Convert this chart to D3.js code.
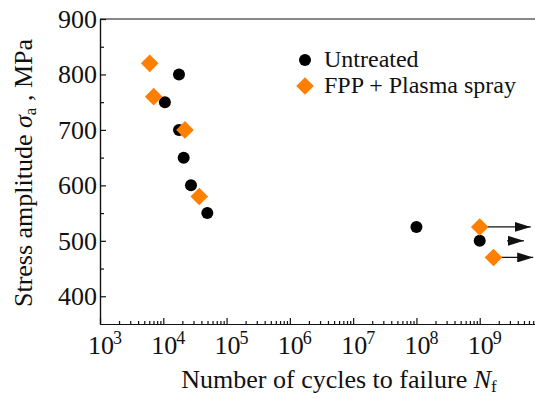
<!DOCTYPE html>
<html>
<head>
<meta charset="utf-8">
<script src="https://cdn.jsdelivr.net/npm/d3@7"></script>
<style>
  body { margin: 0; background: #fff; }
  svg text { font-family: "Liberation Serif", "Times New Roman", serif; fill: #111; }
</style>
</head>
<body>
<svg id="chart" width="535" height="398"></svg>
<script>
// S-N data
const untreatedN = [17700, 10600, 17700, 21000, 27400, 49600, 1e8, 1e9];
const untreatedS = [800, 750, 700, 650, 600, 550, 525, 500];
const fppN = [6100, 7050, 22000, 37000, 1e9, 1.65e9];
const fppS = [820, 760, 700, 580, 525, 470];
// run-out arrows: from, to (cycles) at stress level
const arrowFrom = [1e9, 2.7e9, 1.65e9];
const arrowTo = [6.4e9, 5.0e9, 7.0e9];
const arrowS = [525, 500, 470];
const xDecades = [3, 4, 5, 6, 7, 8, 9];
const yMajor = [400, 500, 600, 700, 800, 900];
const yMinor = [450, 550, 650, 750, 850];
const legendLabels = ["Untreated", "FPP + Plasma spray"];

const orange = "#ff7f00";
const margin = { left: 100, top: 19 };
const width = 443, height = 305;

const svg = d3.select("#chart");
const g = svg.append("g").attr("transform", `translate(${margin.left},${margin.top})`);

const x = d3.scaleLog().domain([1e3, 1e10]).range([0, width]);
const y = d3.scaleLinear().domain([350, 900]).range([height, 0]);

// minor x ticks
const xMinor = [];
for (let d = 3; d < 10; d++) for (let m = 2; m <= 9; m++) xMinor.push(m * Math.pow(10, d));

const styleAxis = sel => {
  sel.selectAll("path, line").attr("stroke", "#111").attr("stroke-width", 1.2);
};

g.append("g").attr("transform", `translate(0,${height})`)
  .call(d3.axisBottom(x).tickValues(xMinor).tickSizeInner(-3).tickSizeOuter(0).tickFormat(""))
  .call(styleAxis);
g.append("g").attr("transform", `translate(0,${height})`)
  .call(d3.axisBottom(x).tickValues(xDecades.map(d => Math.pow(10, d))).tickSizeInner(-6).tickSizeOuter(0).tickFormat(""))
  .call(styleAxis);

// decade labels 10^n
const xl = g.append("g");
xDecades.forEach(d => {
  const px = x(Math.pow(10, d));
  xl.append("text").attr("x", px + 1).attr("y", height + 30)
    .attr("text-anchor", "middle").attr("font-size", 26).text("10");
  xl.append("text").attr("x", px + 13).attr("y", height + 20)
    .attr("font-size", 18).text(d);
});

g.append("g")
  .call(d3.axisLeft(y).tickValues(yMinor).tickSizeInner(-4).tickSizeOuter(0).tickFormat(""))
  .call(styleAxis);
g.append("g")
  .call(d3.axisLeft(y).tickValues(yMajor).tickSizeInner(-6).tickSizeOuter(0).tickPadding(3))
  .call(styleAxis)
  .call(a => a.selectAll("text").attr("font-size", 26).attr("font-family", null).attr("fill", "#111"));

// top frame line
g.append("line").attr("x1", 0).attr("x2", width).attr("y1", 0).attr("y2", 0)
  .attr("stroke", "#111").attr("stroke-width", 1.2);

// arrows
const defs = svg.append("defs");
defs.append("marker").attr("id", "head").attr("markerUnits", "userSpaceOnUse")
  .attr("markerWidth", 16).attr("markerHeight", 10).attr("refX", 16).attr("refY", 5)
  .attr("orient", "auto")
  .append("path").attr("d", "M0,0 L16,5 L0,10 Z").attr("fill", "#111");
g.selectAll(".arrow").data(arrowS).join("line")
  .attr("x1", (s, i) => x(arrowFrom[i])).attr("x2", (s, i) => x(arrowTo[i]))
  .attr("y1", s => y(s)).attr("y2", s => y(s))
  .attr("stroke", "#111").attr("stroke-width", 1.2).attr("marker-end", "url(#head)");

// points
const diamond = d3.symbol().type(d3.symbolSquare).size(155);
g.selectAll(".u").data(untreatedS).join("circle")
  .attr("cx", (s, i) => x(untreatedN[i])).attr("cy", s => y(s)).attr("r", 6).attr("fill", "#000");
g.selectAll(".f").data(fppS).join("path")
  .attr("d", diamond)
  .attr("transform", (s, i) => `translate(${x(fppN[i])},${y(s)}) rotate(45)`)
  .attr("fill", orange);

// legend
const lg = svg.append("g").attr("transform", "translate(305,60)");
lg.append("circle").attr("r", 6).attr("fill", "#000");
lg.append("path").attr("d", diamond).attr("transform", "translate(0,26) rotate(45)").attr("fill", orange);
lg.selectAll("text").data(legendLabels).join("text")
  .attr("x", 19).attr("y", (d, i) => 7 + i * 26).attr("font-size", 24).text(d => d);

// axis titles
const xt = svg.append("text").attr("x", 339).attr("y", 388).attr("text-anchor", "middle").attr("font-size", 26);
xt.append("tspan").text("Number of cycles to failure ");
xt.append("tspan").attr("font-style", "italic").text("N");
xt.append("tspan").attr("font-size", 17).attr("dy", 4).text("f");

const yt = svg.append("text").attr("transform", "translate(32,173) rotate(-90)")
  .attr("text-anchor", "middle").attr("font-size", 26);
yt.append("tspan").text("Stress amplitude ");
yt.append("tspan").attr("font-style", "italic").text("σ");
yt.append("tspan").attr("font-size", 17).attr("dy", 4).text("a");
yt.append("tspan").attr("dy", -4).text(" , MPa");
</script>
</body>
</html>
